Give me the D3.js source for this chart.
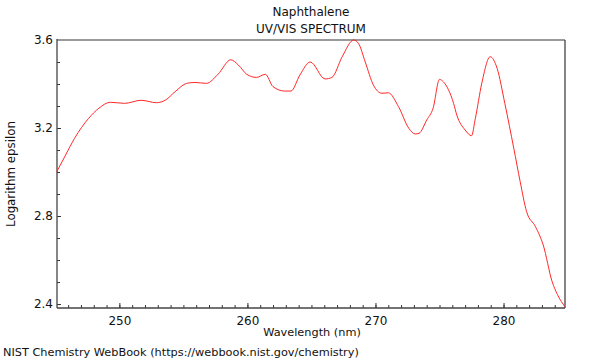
<!DOCTYPE html>
<html>
<head>
<meta charset="utf-8">
<script src="https://cdn.jsdelivr.net/npm/d3@7"></script>
<style>
  body { margin: 0; background: #fff; }
  svg text { font-family: "DejaVu Sans", sans-serif; fill: #111; }
</style>
</head>
<body>
<div id="chart"></div>
<script>
// spectrum
const wavelength = [245.1, 245.8, 246.5, 247.6, 248.4, 249.3, 250.4, 251.7, 252.9, 253.6,
  254.35, 255.26, 255.9, 256.8, 257.7, 258.7, 259.3, 259.95, 260.7, 261.4,
  262.0, 262.9, 263.4, 264.1, 264.9, 266.07, 266.6, 267.4, 268.3, 268.67,
  269.2, 269.84, 270.5, 271.0, 271.8, 272.6, 273.1, 273.4, 274.0, 274.5,
  275.0, 275.3, 276.1, 276.35, 277.0, 277.5, 277.8, 278.3, 278.96, 279.5,
  280.1, 280.8, 281.3, 281.8, 282.5, 283.1, 283.8, 284.2, 284.8];
const logEps = [3.00, 3.077, 3.153, 3.244, 3.29, 3.317, 3.312, 3.326, 3.315, 3.327,
  3.365, 3.403, 3.407, 3.403, 3.444, 3.51, 3.486, 3.444, 3.43, 3.444,
  3.388, 3.368, 3.368, 3.441, 3.50, 3.423, 3.43, 3.524, 3.60, 3.585,
  3.50, 3.395, 3.358, 3.36, 3.297, 3.199, 3.173, 3.176, 3.236, 3.29,
  3.421, 3.41, 3.312, 3.259, 3.191, 3.165, 3.244, 3.403, 3.524, 3.471,
  3.312, 3.108, 2.956, 2.82, 2.751, 2.668, 2.501, 2.444, 2.388];

const xMajor = [250, 260, 270, 280];
const yMajor = [2.4, 2.8, 3.2, 3.6];
const xMinor = d3.range(246, 285, 1);
const yMinor = d3.range(24, 37).map(d => d / 10);

const width = 600;
const height = 360;
const margin = {top: 40, right: 35, bottom: 52, left: 57};

const svg = d3.select('#chart')
  .append('svg')
  .attr('width', width)
  .attr('height', height);

const x = d3.scaleLinear()
  .domain([245.13, 284.8])
  .range([margin.left, width - margin.right]);

const y = d3.scaleLinear()
  .domain([2.382, 3.6])
  .range([height - margin.bottom, margin.top]);

// minor and major ticks, pointing inwards
function drawAxis(axis, cls) {
  const g = svg.append('g').attr('class', cls).call(axis);
  g.select('.domain').remove();
  g.selectAll('.tick line').attr('stroke', '#333');
  return g;
}

drawAxis(d3.axisBottom(x).tickValues(xMinor).tickSize(-3).tickFormat(''), 'xminor')
  .attr('transform', `translate(0,${height - margin.bottom})`);
drawAxis(d3.axisBottom(x).tickValues(xMajor).tickSize(-5).tickPadding(8).tickFormat(d3.format('d')), 'xmajor')
  .attr('transform', `translate(0,${height - margin.bottom})`)
  .selectAll('text').attr('font-size', 12);

drawAxis(d3.axisLeft(y).tickValues(yMinor).tickSize(-3).tickFormat(''), 'yminor')
  .attr('transform', `translate(${margin.left},0)`);
drawAxis(d3.axisLeft(y).tickValues(yMajor).tickSize(-4).tickPadding(3).tickFormat(d3.format('.1f')), 'ymajor')
  .attr('transform', `translate(${margin.left},0)`)
  .selectAll('text').attr('font-size', 12).attr('dx', -1);

// frame
const x0 = margin.left, x1 = width - margin.right;
const y0 = margin.top, y1 = height - margin.bottom;
svg.append('line').attr('x1', x0).attr('x2', x1).attr('y1', y0).attr('y2', y0)
  .attr('stroke', '#999').attr('stroke-width', 2);
svg.append('line').attr('x1', x0).attr('x2', x0).attr('y1', y0 - 1).attr('y2', y1)
  .attr('stroke', '#444').attr('stroke-width', 1.3);
svg.append('line').attr('x1', x1).attr('x2', x1).attr('y1', y0).attr('y2', y1)
  .attr('stroke', '#444').attr('stroke-width', 1.3);
svg.append('line').attr('x1', x0).attr('x2', x1).attr('y1', y1).attr('y2', y1)
  .attr('stroke', '#444').attr('stroke-width', 1.3);

const line = d3.line()
  .x((d, i) => x(wavelength[i]))
  .y(d => y(d))
  .curve(d3.curveMonotoneX);

svg.append('path')
  .datum(logEps)
  .attr('fill', 'none')
  .attr('stroke', '#ff2828')
  .attr('stroke-width', 1)
  .attr('d', line);

const cx = (x0 + x1) / 2;
svg.append('text').attr('x', cx).attr('y', 16).attr('text-anchor', 'middle')
  .attr('font-size', 12).text('Naphthalene');
svg.append('text').attr('x', cx).attr('y', 33).attr('text-anchor', 'middle')
  .attr('font-size', 12).text('UV/VIS SPECTRUM');
svg.append('text').attr('x', cx + 1).attr('y', 336).attr('text-anchor', 'middle')
  .attr('font-size', 11.3).text('Wavelength (nm)');
svg.append('text')
  .attr('transform', `translate(15,${(y0 + y1) / 2}) rotate(-90)`)
  .attr('text-anchor', 'middle')
  .attr('font-size', 11.8).text('Logarithm epsilon');
svg.append('text').attr('x', 3).attr('y', 356)
  .attr('font-size', 11.3).text('NIST Chemistry WebBook (https://webbook.nist.gov/chemistry)');
</script>
</body>
</html>
